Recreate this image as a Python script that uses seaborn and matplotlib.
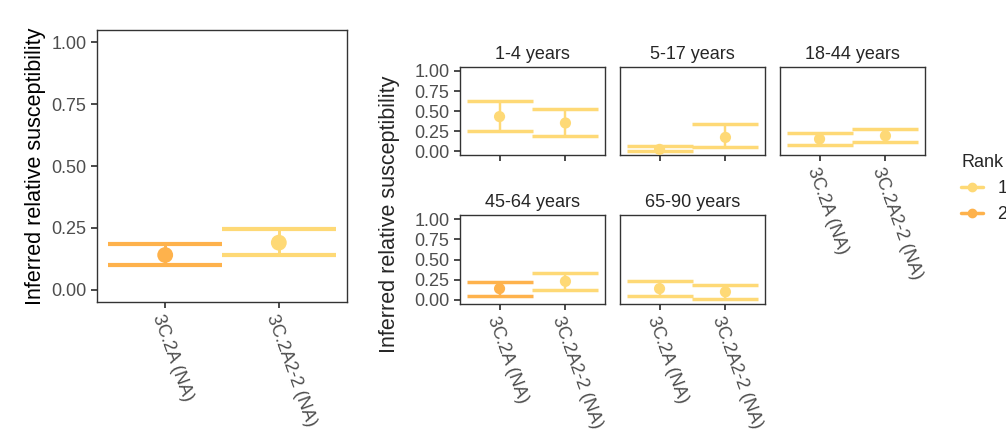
import matplotlib
matplotlib.use("Agg")
import matplotlib.pyplot as plt
import seaborn as sns
import pandas as pd
from matplotlib.lines import Line2D

clades = ["3C.2A (NA)", "3C.2A2-2 (NA)"]
colors = {1: "#FED976", 2: "#FEB24C"}

# overall
all_rank = [2, 1]
all_mid = [0.14, 0.19]
all_lo = [0.10, 0.14]
all_hi = [0.185, 0.245]

# by age group
ages = ["1-4 years", "5-17 years", "18-44 years", "45-64 years", "65-90 years"]
age_rank = [[1, 1], [1, 1], [1, 1], [2, 1], [1, 1]]
age_mid = [[0.43, 0.35], [0.02, 0.17], [0.15, 0.19], [0.14, 0.23], [0.14, 0.10]]
age_lo = [[0.25, 0.19], [0.00, 0.05], [0.08, 0.11], [0.05, 0.12], [0.05, 0.01]]
age_hi = [[0.63, 0.53], [0.06, 0.34], [0.22, 0.27], [0.22, 0.33], [0.23, 0.18]]

sns.set_theme(style="ticks")
plt.rcParams["font.family"] = ["Liberation Sans", "DejaVu Sans"]

W, H = 1006, 429
fig = plt.figure(figsize=(W / 100, H / 100), dpi=100)

def px_axes(x0, y0, x1, y1):
    return fig.add_axes([x0 / W, 1 - y1 / H, (x1 - x0) / W, (y1 - y0) / H])

def draw(ax, ranks, mid, lo, hi, cap, ms, lw, fs, show_x):
    df = pd.DataFrame({"x": [0, 1], "y": mid, "rank": ranks})
    for i in range(2):
        c = colors[ranks[i]]
        ax.errorbar([i], [mid[i]], yerr=[[mid[i] - lo[i]], [hi[i] - mid[i]]],
                    fmt="none", ecolor=c, elinewidth=lw * 0.7, capsize=cap, capthick=lw)
    sns.scatterplot(data=df, x="x", y="y", hue="rank", palette=colors, s=ms,
                    edgecolor="none", legend=False, ax=ax, zorder=3)
    ax.set_xlim(-0.6, 1.6)
    ax.set_ylim(-0.05, 1.05)
    ax.set_yticks([0, 0.25, 0.5, 0.75, 1.0])
    ax.set_yticklabels(["0.00", "0.25", "0.50", "0.75", "1.00"])
    ax.set_xticks([0, 1])
    if show_x:
        ax.set_xticklabels(clades, rotation=-70, ha="left", rotation_mode="anchor")
    else:
        ax.set_xticklabels([])
    ax.set_xlabel("")
    ax.set_ylabel("")
    ax.tick_params(labelsize=fs, colors="#333333", labelcolor="#4d4d4d", length=4)
    for s in ax.spines.values():
        s.set_color("#333333")
        s.set_linewidth(1)

ax0 = px_axes(97, 30, 347, 302)
draw(ax0, all_rank, all_mid, all_lo, all_hi, cap=41, ms=130, lw=3, fs=13, show_x=True)
ax0.set_ylabel("Inferred relative susceptibility", fontsize=15.5, color="black")

boxes = [(460, 67, 605, 155), (620, 67, 765, 155), (780, 67, 925, 155),
         (460, 215, 605, 304), (620, 215, 765, 304)]
for k, b in enumerate(boxes):
    ax = px_axes(*b)
    draw(ax, age_rank[k], age_mid[k], age_lo[k], age_hi[k], cap=24, ms=65, lw=2.5,
         fs=13, show_x=(k >= 2))
    ax.set_title(ages[k], fontsize=13, pad=6)
    if k in (1, 2, 4):
        ax.set_yticklabels([])
        ax.tick_params(axis="y", length=0)

fig.text(390 / W, 0.5, "Inferred relative susceptibility", rotation=90,
         fontsize=15.5, ha="center", va="center")

handles = [Line2D([0], [0], color=colors[r], lw=2.5, marker="o", markersize=6) for r in (1, 2)]
fig.legend(handles, ["1", "2"], title="Rank", loc="upper left",
           bbox_to_anchor=(945 / W, 1 - 138 / H), frameon=False, fontsize=13,
           title_fontsize=13, handlelength=1.2, alignment="left")

fig.savefig("out.png", dpi=100)
